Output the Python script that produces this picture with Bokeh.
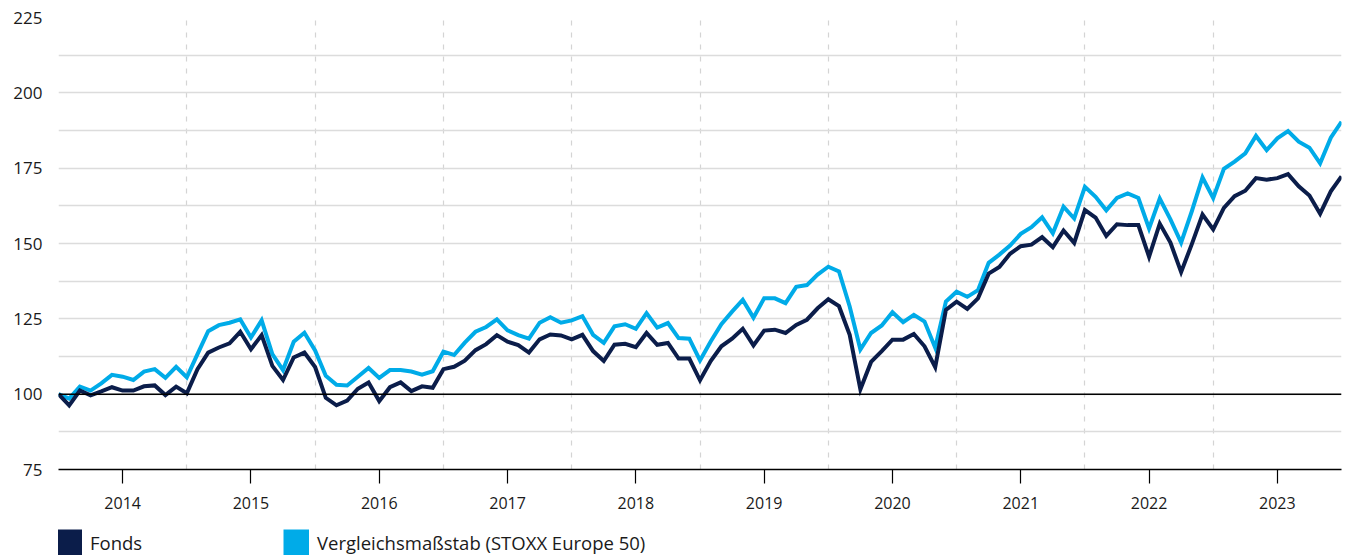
import pandas as pd
from bokeh.plotting import figure
from bokeh.layouts import column
from bokeh.models import FixedTicker, Span, Legend, LegendItem, Range1d
from bokeh.embed import file_html
from bokeh.resources import INLINE

# ---- data -------------------------------------------------------------
month_ends = pd.date_range("2013-12-31", periods=121, freq="ME")

fonds = [
    100.0, 96.3, 101.2, 99.6, 100.9, 102.3, 101.2, 101.2, 102.6, 102.9, 99.7, 102.5, 100.3,
    108.3, 113.8, 115.5, 116.9, 120.7, 114.9, 119.6, 109.4, 104.7, 112.2, 113.8, 109.0,
    98.8, 96.3, 97.9, 101.8, 103.9, 97.7, 102.3, 103.9, 101.0, 102.6, 102.1, 108.3,
    109.1, 111.1, 114.6, 116.6, 119.6, 117.4, 116.3, 113.8, 118.2, 119.8, 119.5, 118.2,
    119.7, 114.3, 111.0, 116.4, 116.7, 115.6, 120.3, 116.4, 117.0, 111.8, 111.8, 104.6,
    111.0, 115.9, 118.4, 121.7, 116.2, 121.1, 121.4, 120.3, 123.0, 124.7, 128.5, 131.5,
    129.2, 119.7, 101.6, 110.7, 114.3, 118.1, 118.1, 120.0, 115.9, 109.0, 128.0, 130.7,
    128.3, 131.8, 140.0, 142.2, 146.6, 149.1, 149.6, 152.1, 148.8, 154.3, 150.2, 161.1,
    158.6, 152.5, 156.4, 156.1, 156.1, 145.6, 156.6, 150.3, 140.5, 149.8, 159.6, 154.7,
    161.8, 165.7, 167.5, 171.7, 171.2, 171.7, 173.0, 169.0, 165.9, 159.9, 167.3, 172.3,
]

benchmark = [
    100.0, 98.5, 102.5, 101.2, 103.6, 106.4, 105.8, 104.7, 107.5, 108.3, 105.4, 109.1, 105.6,
    113.3, 120.9, 122.9, 123.7, 124.8, 118.8, 124.5, 113.3, 108.0, 117.4, 120.4, 114.5,
    106.1, 103.1, 102.9, 105.8, 108.7, 105.4, 108.0, 108.0, 107.5, 106.5, 107.6, 114.1,
    113.0, 117.1, 120.7, 122.3, 124.8, 121.2, 119.6, 118.4, 123.7, 125.5, 123.7, 124.5,
    125.9, 119.7, 117.0, 122.5, 123.2, 121.7, 126.9, 122.1, 123.6, 118.6, 118.4, 111.2,
    117.5, 123.2, 127.4, 131.3, 125.4, 131.8, 131.8, 130.2, 135.6, 136.2, 139.7, 142.3,
    140.7, 129.1, 114.8, 120.3, 122.8, 127.2, 123.9, 126.3, 124.1, 115.4, 130.7, 134.0,
    132.3, 134.5, 143.6, 146.3, 149.3, 153.2, 155.4, 158.7, 153.4, 162.2, 158.3, 168.8,
    165.5, 161.0, 165.1, 166.6, 165.1, 155.0, 164.9, 158.0, 150.3, 160.7, 171.9, 165.1,
    174.8, 177.2, 179.9, 185.7, 181.0, 184.9, 187.3, 183.8, 181.8, 176.6, 185.1, 190.4,
]

years = list(range(2014, 2024))
year_labels = [str(y) for y in years]
y_label_ticks = [75, 100, 125, 150, 175, 200, 225]
y_grid_ticks = [75 + 12.5 * i for i in range(13)]

series_names = ["Fonds", "Vergleichsmaßstab (STOXX Europe 50)"]
NAVY = "#0b1d4a"
CYAN = "#00abe8"
FONT = "Open Sans"
TXT = "#1a1a1a"

x = [d.year + d.month / 12.0 for d in month_ends]

# ---- main chart -------------------------------------------------------
p = figure(width=1349, height=520,
           x_range=Range1d(2014, 2024), y_range=Range1d(75, 225),
           output_backend="svg", toolbar_location=None,
           min_border_left=58, min_border_right=8,
           min_border_top=17, min_border_bottom=51)
p.outline_line_color = None
p.background_fill_color = "white"
p.border_fill_color = "white"

# grids
p.ygrid.ticker = FixedTicker(ticks=y_grid_ticks)
p.ygrid.grid_line_color = "#dcdcdc"
p.ygrid.grid_line_width = 1.5
p.xgrid.ticker = FixedTicker(ticks=years[1:])
p.xgrid.grid_line_color = "#d4d4d4"
p.xgrid.grid_line_width = 1.2
p.xgrid.grid_line_dash = "5 7"

# x axis
p.xaxis.ticker = FixedTicker(ticks=[y + 0.5 for y in years])
p.xaxis.major_label_overrides = {y + 0.5: lab for y, lab in zip(years, year_labels)}
p.xaxis.axis_line_color = "black"
p.xaxis.axis_line_width = 1.5
p.xaxis.major_tick_line_color = "black"
p.xaxis.major_tick_line_width = 1.2
p.xaxis.major_tick_out = 14
p.xaxis.major_tick_in = 0
p.xaxis.minor_tick_line_color = None
p.xaxis.minor_tick_out = 0
p.xaxis.major_label_standoff = 13
p.xaxis.major_label_text_font = FONT
p.xaxis.major_label_text_font_size = "16px"
p.xaxis.major_label_text_color = TXT

# y axis
p.yaxis.ticker = FixedTicker(ticks=y_label_ticks)
p.yaxis.axis_line_color = None
p.yaxis.major_tick_line_color = None
p.yaxis.minor_tick_line_color = None
p.yaxis.major_tick_out = 0
p.yaxis.major_tick_in = 0
p.yaxis.minor_tick_out = 0
p.yaxis.major_label_standoff = 16
p.yaxis.major_label_text_font = FONT
p.yaxis.major_label_text_font_size = "17px"
p.yaxis.major_label_text_color = TXT

# baseline at 100
p.add_layout(Span(location=100, dimension="width", line_color="black", line_width=1.5))

# series
p.line(x, benchmark, line_color=CYAN, line_width=4, line_join="miter")
p.line(x, fonds, line_color=NAVY, line_width=4, line_join="miter")

# ---- legend strip -----------------------------------------------------
lg = figure(width=1349, height=37, x_range=Range1d(0, 1), y_range=Range1d(0, 1),
            x_axis_type=None, y_axis_type=None,
            output_backend="svg", toolbar_location=None, min_border=0)
lg.outline_line_color = None
lg.background_fill_color = "white"
lg.border_fill_color = "white"

nan = float("nan")
# thick butt-capped line swatches render as full 26x26 squares in the legend
sw1 = lg.line(x=[nan], y=[nan], line_color=NAVY, line_width=26, line_cap="butt")
sw2 = lg.line(x=[nan], y=[nan], line_color=CYAN, line_width=26, line_cap="butt")

# the strip's frame is aligned with the chart's frame (left edge at 58px)
for r, name, loc in [(sw1, series_names[0], (-2, 2)), (sw2, series_names[1], (225, 2))]:
    leg = Legend(items=[LegendItem(label=name, renderers=[r])],
                 location=loc, orientation="horizontal",
                 glyph_width=26, glyph_height=26, label_standoff=8,
                 padding=0, margin=0, border_line_color=None,
                 background_fill_alpha=0,
                 label_text_font=FONT, label_text_font_size="18.5px",
                 label_text_color=TXT)
    lg.add_layout(leg)

layout = column(p, lg, spacing=0)
open("out.html", "w").write(file_html(layout, INLINE))
